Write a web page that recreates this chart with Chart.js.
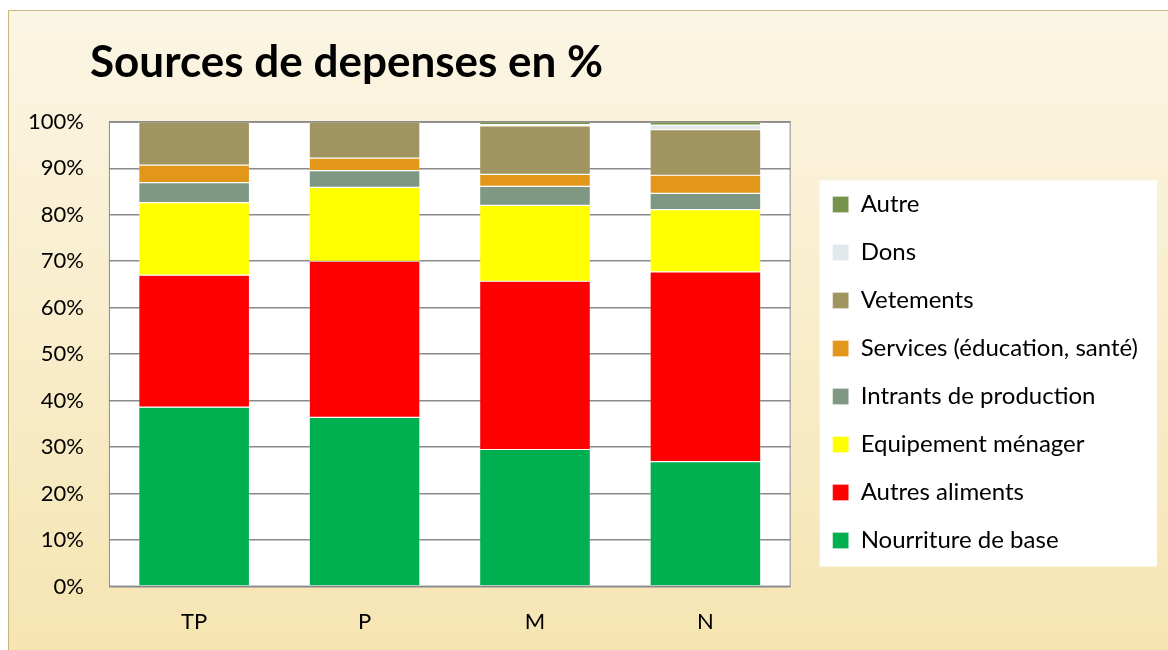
<!DOCTYPE html>
<html>
<head>
<meta charset="utf-8">
<script src="https://cdn.jsdelivr.net/npm/chart.js@4"></script>
<style>
  html, body { margin: 0; padding: 0; background: #fff; }
  #wrap { width: 1168px; height: 650px; }
</style>
</head>
<body>
<div id="wrap"><canvas id="depChart" width="1168" height="650"></canvas></div>
<script>
const categories = ['TP', 'P', 'M', 'N'];

const nourriture = [38.6, 36.4, 29.5, 26.9];
const autresAliments = [28.4, 33.6, 36.2, 40.8];
const equipement = [15.6, 15.9, 16.3, 13.4];
const intrants = [4.3, 3.6, 4.1, 3.5];
const services = [3.8, 2.7, 2.6, 3.9];
const vetements = [9.3, 7.8, 10.4, 9.8];
const dons = [0, 0, 0.3, 1.0];
const autre = [0, 0, 0.6, 0.7];

const yTicks = [0, 10, 20, 30, 40, 50, 60, 70, 80, 90, 100];

const FONT = 'Lato, Calibri, "Liberation Sans", sans-serif';

// background frame, white plot area and white legend panel
const framePlugin = {
  id: 'frame',
  afterLayout(chart) {
    // title starts further right than the axis labels, legend sits apart from the plot
    chart.titleBlock.left = 90;
    const lg = chart.legend;
    const dx = chart.chartArea.right + 18 - lg.left;
    lg.left += dx; lg.right += dx;
    lg.top += 39; lg.bottom += 39;
  },
  beforeDraw(chart) {
    const c = chart.ctx;
    const a = chart.chartArea;
    c.save();
    const g = c.createLinearGradient(0, 10, 0, 650);
    g.addColorStop(0, '#fbf5e4');
    g.addColorStop(1, '#f6e5b2');
    c.fillStyle = g;
    c.fillRect(8, 10, 1160, 640);
    c.strokeStyle = '#c8b47c';
    c.lineWidth = 1;
    c.beginPath();
    c.moveTo(8.5, 650);
    c.lineTo(8.5, 10.5);
    c.lineTo(1168, 10.5);
    c.stroke();

    c.fillStyle = '#ffffff';
    c.fillRect(a.left, a.top, a.right - a.left, a.bottom - a.top);
    c.strokeStyle = '#8a8a8a';
    c.lineWidth = 1;
    c.strokeRect(a.left + 0.5, a.top + 0.5, a.right - a.left - 1, a.bottom - a.top - 1);

    const lg = chart.legend;
    if (lg && lg.legendHitBoxes && lg.legendHitBoxes.length) {
      const hb = lg.legendHitBoxes;
      let top = Infinity, bottom = -Infinity, left = Infinity;
      hb.forEach(h => {
        top = Math.min(top, h.top);
        bottom = Math.max(bottom, h.top + h.height);
        left = Math.min(left, h.left);
      });
      c.fillStyle = '#ffffff';
      c.fillRect(left - 13, top - 12, 1157 - (left - 13), bottom - top + 26);
    }
    c.restore();
  }
};

const ctx = document.getElementById('depChart').getContext('2d');
new Chart(ctx, {
  type: 'bar',
  data: {
    labels: categories,
    datasets: [
      { label: 'Nourriture de base', data: nourriture, backgroundColor: '#00b050' },
      { label: 'Autres aliments', data: autresAliments, backgroundColor: '#ff0000' },
      { label: 'Equipement ménager', data: equipement, backgroundColor: '#ffff00' },
      { label: 'Intrants de production', data: intrants, backgroundColor: '#7f9883' },
      { label: 'Services (éducation, santé)', data: services, backgroundColor: '#e2971a' },
      { label: 'Vetements', data: vetements, backgroundColor: '#a09560' },
      { label: 'Dons', data: dons, backgroundColor: '#e1e9ec' },
      { label: 'Autre', data: autre, backgroundColor: '#77924a' }
    ]
  },
  options: {
    responsive: false,
    animation: false,
    datasets: {
      bar: {
        barPercentage: 1,
        categoryPercentage: 0.65,
        borderWidth: 0.6,
        borderColor: 'rgba(255,255,255,0.45)',
        borderSkipped: false
      }
    },
    layout: {
      padding: { left: 3, right: 38, top: 10, bottom: -7 }
    },
    scales: {
      x: {
        stacked: true,
        grid: { display: false, drawTicks: false },
        border: { display: false },
        ticks: { color: '#000', padding: 22, font: { family: FONT, size: 22 } }
      },
      y: {
        stacked: true,
        min: yTicks[0],
        max: yTicks[yTicks.length - 1],
        grid: { color: '#8a8a8a', lineWidth: 1.5, drawTicks: false },
        border: { display: false },
        ticks: {
          color: '#000',
          padding: 25,
          stepSize: yTicks[1] - yTicks[0],
          font: { family: FONT, size: 22 },
          callback: v => v + '%'
        }
      }
    },
    plugins: {
      title: {
        display: true,
        text: 'Sources de depenses en %',
        align: 'start',
        color: '#000',
        font: { family: FONT, size: 44, weight: 'bold' },
        padding: { top: 26, bottom: 33 }
      },
      legend: {
        position: 'right',
        reverse: true,
        maxWidth: 420,
        labels: {
          color: '#000',
          boxWidth: 16,
          boxHeight: 16,
          padding: 24,
          font: { family: FONT, size: 24 }
        }
      },
      tooltip: { enabled: false }
    }
  },
  plugins: [framePlugin]
});
</script>
</body>
</html>
